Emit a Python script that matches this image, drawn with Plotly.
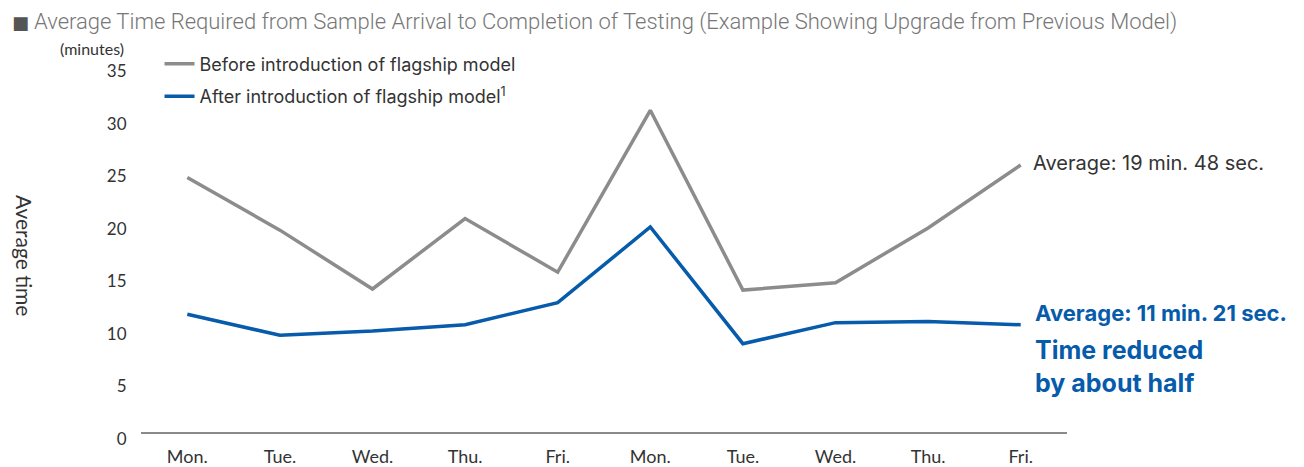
import plotly.graph_objects as go

days = ["Mon.", "Tue.", "Wed.", "Thu.", "Fri.", "Mon.", "Tue.", "Wed.", "Thu.", "Fri."]
before = [24.2, 19.2, 13.6, 20.3, 15.2, 30.6, 13.5, 14.2, 19.4, 25.4]
after = [11.2, 9.2, 9.6, 10.2, 12.3, 19.5, 8.4, 10.4, 10.5, 10.2]
y_ticks = [0, 5, 10, 15, 20, 25, 30, 35]

GRAY = "#8c8c8c"
BLUE = "#065bab"
TEXT = "#333333"
x_idx = list(range(len(days)))

W, H = 1304, 467
L, R, T, B = 141, 237, 64, 35

fig = go.Figure()
fig.add_trace(go.Scatter(
    x=x_idx, y=before, mode="lines", name="Before introduction of flagship model",
    line=dict(color=GRAY, width=3.5), legendgroup="a",
))
fig.add_trace(go.Scatter(
    x=x_idx, y=after, mode="lines", name="After introduction of flagship model<sup>1</sup>",
    line=dict(color=BLUE, width=3.5), legendgroup="b",
))

fig.update_layout(
    width=W, height=H,
    margin=dict(l=L, r=R, t=T, b=B),
    plot_bgcolor="white", paper_bgcolor="white",
    font=dict(family="Inter", color=TEXT, size=16),
    showlegend=True,
    legend=dict(
        x=0.02, y=1.05, xanchor="left", yanchor="top",
        font=dict(family="Inter", size=18, color=TEXT),
        tracegroupgap=6, bgcolor="rgba(0,0,0,0)",
    ),
    xaxis=dict(
        tickmode="array", tickvals=x_idx, ticktext=days,
        range=[-0.5, 9.5], showgrid=False, zeroline=False, automargin=False,
        showline=True, linecolor="#8a8a8a", linewidth=1.5,
        ticks="outside", ticklen=8, tickcolor="white",
        tickfont=dict(family="Lato", size=18, color=TEXT),
    ),
    yaxis=dict(
        range=[0, 35], tickvals=y_ticks, showgrid=False, zeroline=False,
        automargin=False, showline=False, ticks="outside", ticklen=10,
        tickcolor="white", ticklabelshift=7,
        tickfont=dict(family="Lato", size=17, color=TEXT),
    ),
)


def label(px, py, text, font, xanchor="left", **kw):
    """Place a text label at a pixel position of the page."""
    fig.add_annotation(
        x=(px - L) / (W - L - R), y=(H - B - py) / (H - T - B),
        xref="paper", yref="paper", xanchor=xanchor, yanchor="middle",
        showarrow=False, align="left", text=text, font=font, **kw,
    )


label(21, 22, "■", dict(family="DejaVu Sans", size=18, color="#555555"), xanchor="center")
label(32, 22, "Average Time Required from Sample Arrival to Completion of Testing (Example Showing Upgrade from Previous Model)",
      dict(family="Roboto", size=22, color="#777777", weight=300))
label(126, 48, "(minutes)", dict(family="Lato", size=16, color=TEXT), xanchor="right")
label(25, 255, "Average time", dict(family="Lato", size=21, color=TEXT), xanchor="center", textangle=90)
label(1031, 163, "Average: 19 min. 48 sec.", dict(family="Inter", size=20, color=TEXT))
label(1033, 313, "<b>Average: 11 min. 21 sec.</b>", dict(family="Inter", size=22, color=BLUE))
label(1033, 366, "<b>Time reduced<br>by about half</b>", dict(family="Inter", size=25, color=BLUE))

fig.write_html("out.html")
